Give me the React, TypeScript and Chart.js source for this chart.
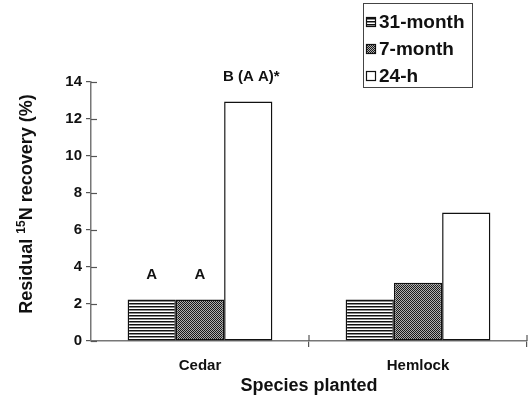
import React, { useEffect, useRef } from "react";
import { Chart, registerables } from "chart.js";

Chart.register(...registerables);

const categories = ["Cedar", "Hemlock"];
const seriesNames = ["31-month", "7-month", "24-h"];
const values31Month = [2.25, 2.25];
const values7Month = [2.25, 3.15];
const values24h = [12.95, 6.95];
const barLetters31Month = ["A", ""];
const barLetters7Month = ["A", ""];
const barLetters24h = ["B (A A)*", ""];
const yTicks = [0, 2, 4, 6, 8, 10, 12, 14];

const FONT = "'Liberation Sans', Arial, Helvetica, sans-serif";

function makeStripePattern(ctx: CanvasRenderingContext2D) {
  const c = document.createElement("canvas");
  c.width = 4;
  c.height = 3;
  const g = c.getContext("2d")!;
  g.fillStyle = "#ffffff";
  g.fillRect(0, 0, 4, 3);
  g.fillStyle = "#111111";
  g.fillRect(0, 0, 4, 1);
  g.fillStyle = "#8a8a8a";
  g.fillRect(0, 1, 4, 1);
  return ctx.createPattern(c, "repeat")!;
}

function makeCheckerPattern(ctx: CanvasRenderingContext2D) {
  const c = document.createElement("canvas");
  c.width = 2;
  c.height = 2;
  const g = c.getContext("2d")!;
  g.fillStyle = "#b0b0b0";
  g.fillRect(0, 0, 2, 2);
  g.fillStyle = "#1a1a1a";
  g.fillRect(0, 0, 1, 1);
  g.fillRect(1, 1, 1, 1);
  return ctx.createPattern(c, "repeat")!;
}

export default function App() {
  const canvasRef = useRef<HTMLCanvasElement | null>(null);

  useEffect(() => {
    const canvas = canvasRef.current!;
    const ctx = canvas.getContext("2d")!;
    const stripe = makeStripePattern(ctx);
    const checker = makeCheckerPattern(ctx);
    const fills: (string | CanvasPattern)[] = [stripe, checker, "#ffffff"];
    const letters = [barLetters31Month, barLetters7Month, barLetters24h];

    const overlay = {
      id: "overlay",
      afterDraw(chart: any) {
        const c: CanvasRenderingContext2D = chart.ctx;
        const area = chart.chartArea;
        const xs = chart.scales.x;
        const ys = chart.scales.y;
        c.save();
        // inner tick halves
        c.strokeStyle = "#555";
        c.lineWidth = 1.2;
        yTicks.forEach((t) => {
          const py = Math.round(ys.getPixelForValue(t)) + 0.5;
          c.beginPath();
          c.moveTo(area.left, py);
          c.lineTo(area.left + 6, py);
          c.stroke();
        });
        const n = categories.length;
        for (let i = 1; i <= n; i++) {
          const px = xs.getPixelForValue(i - 0.5);
          c.beginPath();
          c.moveTo(px, area.bottom);
          c.lineTo(px, area.bottom - 6);
          c.stroke();
        }
        // bar letters
        c.fillStyle = "#111";
        c.font = `bold 15px ${FONT}`;
        c.textAlign = "center";
        c.textBaseline = "alphabetic";
        letters.forEach((arr, di) => {
          const meta = chart.getDatasetMeta(di);
          arr.forEach((txt, i) => {
            if (!txt) return;
            const el = meta.data[i];
            c.fillText(txt, el.x + (txt.length > 2 ? 3 : 0), el.y - 20);
          });
        });
        // y title with superscript
        const parts = [
          { t: "Residual ", size: 18, rise: 0 },
          { t: "15", size: 12, rise: 7 },
          { t: "N recovery (%)", size: 18, rise: 0 },
        ];
        let total = 0;
        parts.forEach((p) => {
          c.font = `bold ${p.size}px ${FONT}`;
          total += c.measureText(p.t).width;
        });
        c.translate(32, 204);
        c.rotate(-Math.PI / 2);
        c.textAlign = "left";
        let x = -total / 2;
        parts.forEach((p) => {
          c.font = `bold ${p.size}px ${FONT}`;
          c.fillText(p.t, x, -p.rise);
          x += c.measureText(p.t).width;
        });
        c.setTransform(1, 0, 0, 1, 0, 0);
        // legend
        const bx = 363.5, by = 3.5, bw = 109, bh = 84;
        c.fillStyle = "#fff";
        c.fillRect(bx, by, bw, bh);
        c.strokeStyle = "#444";
        c.lineWidth = 1;
        c.strokeRect(bx, by, bw, bh);
        c.font = `bold 19px ${FONT}`;
        c.textBaseline = "middle";
        seriesNames.forEach((name, i) => {
          const cy = 22 + i * 27;
          c.fillStyle = fills[i] as any;
          c.fillRect(366, cy - 5, 10, 10);
          c.strokeStyle = "#111";
          c.lineWidth = 1.2;
          c.strokeRect(366.5, cy - 4.5, 9, 9);
          c.fillStyle = "#111";
          c.fillText(name, 379, cy + 1);
        });
        c.restore();
      },
    };

    const chart = new Chart(canvas, {
      type: "bar",
      data: {
        labels: categories,
        datasets: [
          { label: seriesNames[0], data: values31Month, backgroundColor: stripe as any },
          { label: seriesNames[1], data: values7Month, backgroundColor: checker as any },
          { label: seriesNames[2], data: values24h, backgroundColor: "#ffffff" },
        ].map((d) => ({
          ...d,
          borderColor: "#111",
          borderWidth: 1.5,
          borderSkipped: false as any,
          categoryPercentage: 0.664,
          barPercentage: 1,
        })),
      },
      options: {
        animation: false,
        responsive: false,
        maintainAspectRatio: false,
        layout: { padding: { top: 82, right: 4, left: 0, bottom: 0 } },
        plugins: {
          legend: { display: false },
          tooltip: { enabled: false },
        },
        scales: {
          x: {
            type: "category",
            offset: true,
            grid: {
              offset: true,
              drawOnChartArea: false,
              drawTicks: true,
              tickLength: 6,
              color: (ctx: any) => (ctx.index === 0 ? "rgba(0,0,0,0)" : "#555"),
              lineWidth: 1.2,
            },
            border: { color: "#777", width: 1.5 },
            ticks: {
              color: "#111",
              font: { family: FONT, size: 15, weight: "bold" },
              padding: 10,
            },
            title: {
              display: true,
              text: "Species planted",
              color: "#111",
              font: { family: FONT, size: 18, weight: "bold" },
              padding: { top: 0, bottom: 2 },
            },
            afterFit(scale: any) {
              scale.height = 58;
            },
          },
          y: {
            min: 0,
            max: 14,
            afterBuildTicks(scale: any) {
              scale.ticks = yTicks.map((v) => ({ value: v }));
            },
            grid: {
              drawOnChartArea: false,
              drawTicks: true,
              tickLength: 5,
              color: "#555",
              lineWidth: 1.2,
            },
            border: { color: "#777", width: 1.5 },
            ticks: {
              color: "#111",
              font: { family: FONT, size: 15, weight: "bold" },
              padding: 4,
            },
            afterFit(scale: any) {
              scale.width = 91;
            },
          },
        },
      },
      plugins: [overlay],
    });
    return () => chart.destroy();
  }, []);

  return (
    <div style={{ position: "fixed", left: 0, top: 0, width: 531, height: 399, background: "#fff" }}>
      <canvas ref={canvasRef} width={531} height={399} />
    </div>
  );
}
